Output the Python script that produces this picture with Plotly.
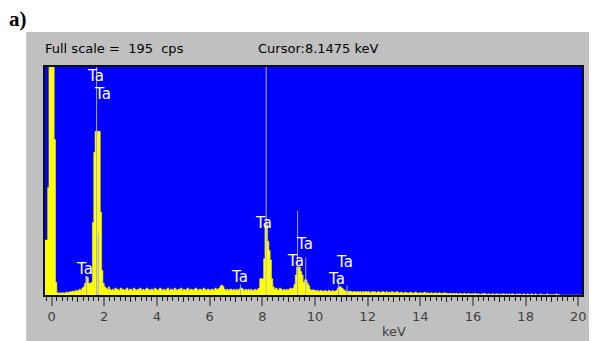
import plotly.graph_objects as go

# ---------------- data ----------------
CH_START = -0.25   # keV of first channel
CH_WIDTH = 0.05    # keV per channel

cps = (
    [47, 47, 92, 500, 500] +
    [500, 500, 133, 11, 2, 1.5, 2, 1.5, 2, 1.5, 2, 2.5, 2, 2.5, 3, 2.5, 3.5, 3, 4, 3.5] +
    [4, 5, 4, 6, 7, 10, 16, 15, 10, 10, 11, 62, 122, 140, 140, 140, 140, 71, 21, 10] +
    [7, 6, 5, 7, 5, 4, 5, 4, 6, 5, 5, 4, 6, 5, 5, 4, 5, 6, 4, 5] +
    [5, 4, 6, 5, 4, 5, 5, 6, 4, 5, 4, 5, 6, 5, 4, 5, 5, 4, 6, 5] +
    [4, 5, 6, 5, 4, 5, 4, 5, 6, 4, 5, 5, 4, 6, 5, 4, 5, 5, 6, 4] +
    [5, 4, 5, 6, 4, 5, 5, 4, 5, 6, 5, 4, 5, 5, 4, 6, 5, 4, 5, 5] +
    [4, 5, 5, 4, 6, 5, 5, 6, 8, 8.5, 7, 5, 4, 5, 4, 5, 5, 4, 5, 4] +
    [5, 4, 5, 6, 6, 5, 4, 5, 4, 5, 4, 5, 4, 4, 5, 4, 5, 6, 14, 14] +
    [14, 31, 60, 60, 46, 38, 30, 14, 7, 5, 6, 5, 4, 6, 5, 4, 5, 4, 5, 4] +
    [5, 6, 5, 6, 9, 17, 24, 24, 24, 20, 17, 11, 13, 13, 10, 8, 5, 4, 4.5, 4] +
    [4, 3.5, 4, 3, 4, 3.5, 3, 4, 3.5, 3, 4, 3.5, 3, 4, 3, 3.5, 4, 6, 7, 7] +
    [6, 5, 4, 3.5, 3, 3, 3.5, 3, 2.5, 3, 3, 2.5, 3, 2.5, 3, 2, 3, 2.5, 3, 2.5] +
    [3, 2.5, 2, 3, 2.5, 3, 2, 2.5, 3, 2, 2.5, 3, 2.5, 2, 3, 2, 2.5, 2, 3, 2.5] +
    [2, 2.5, 3, 2, 2, 2.5, 2, 1.5, 2.5, 2, 2, 1.5, 2.5, 2, 1.5, 2, 2.5, 2, 1.5, 2] +
    [2, 1.5, 2, 2.5, 1.5, 2, 1.5, 1.5, 2, 1.5, 1.5, 2, 1.5, 1.5, 2, 1.5, 1.5, 1.5, 2, 1.5] +
    [1.5, 1, 1.5, 1.5, 1, 1.5, 1, 1.5, 1, 1, 1.5, 1, 1, 1.5, 1, 1, 1.5, 1, 1, 1] +
    [1, 1.5, 1, 1, 1, 0.5, 1, 1, 1.5, 1, 0.5, 1, 1, 0.5, 1, 1, 0.5, 1, 1, 0.5] +
    [1, 0.5, 1, 1, 0.5, 1, 0.5, 1, 0.5, 1, 1, 0.5, 0.5, 1, 0.5, 1, 0.5, 0.5, 1, 0.5] +
    [0.5, 1, 0.5, 0.5, 1, 0.5, 0.5, 1, 0.5, 0.5, 0.5, 1, 0.5, 0.5, 0.5, 0.5, 1, 0.5, 0.5, 0.5] +
    [0.5, 0.5, 0.5, 1, 0.5, 0.5, 0, 0, 0, 0, 0, 0, 0, 0, 0, 0, 0, 0, 0, 0] +
    [0, 0, 0, 0]
)
energies = [CH_START + CH_WIDTH * i for i in range(len(cps))]

FULL_SCALE = 195
CURSOR_KEV = 8.1475

# Ta marker lines (energy keV, marker height in cps)
ta_line_kev = [1.33, 1.71, 1.77, 7.17, 9.34, 9.65, 10.90, 11.22]
ta_line_cps = [15, 195, 53, 9, 72, 32, 13, 8]

# Ta labels (energy keV, height cps)
ta_label_kev = [1.25, 1.67, 1.93, 7.12, 8.06, 9.59, 9.28, 10.82, 11.14]
ta_label_cps = [22, 187, 172, 15, 62, 44, 29, 14, 28.5]

x_ticks = list(range(0, 21, 2))
X_RANGE = [-0.25, 20.14]

# page body has an 8px margin: lay the figure out 8px up/left of the reference
OFF = 8
PLOT_L, PLOT_T, PLOT_W, PLOT_H = 45 - OFF, 67 - OFF, 542, 228
FIG_W, FIG_H = 597 - OFF, 341 - OFF


def px_x(x):   # reference pixel x -> paper fraction
    return (x - 45) / PLOT_W


def px_y(y):   # reference pixel y -> paper fraction
    return (295 - y) / PLOT_H


# ---------------- figure ----------------
fig = go.Figure()

fig.add_trace(go.Scatter(
    x=energies, y=cps, mode="lines", line=dict(color="#ffff00", width=0.5, shape="hv"),
    fill="tozeroy", fillcolor="#ffff00", hoverinfo="skip", showlegend=False))

mx, my = [], []
for e, h in zip(ta_line_kev, ta_line_cps):
    mx += [e, e, None]
    my += [0, h, None]
fig.add_trace(go.Scatter(x=mx, y=my, mode="lines", line=dict(color="#a8a8e8", width=1),
                         hoverinfo="skip", showlegend=False))
fig.add_trace(go.Scatter(x=[CURSOR_KEV, CURSOR_KEV], y=[0, FULL_SCALE], mode="lines",
                         line=dict(color="#b8b8f0", width=1), hoverinfo="skip", showlegend=False))

# invisible trace for the overlay tick axis
fig.add_trace(go.Scatter(x=[0], y=[0], xaxis="x2", mode="markers", marker=dict(opacity=0),
                         hoverinfo="skip", showlegend=False))

for e, h in zip(ta_label_kev, ta_label_cps):
    fig.add_annotation(x=e, y=h, text="Ta", showarrow=False, xanchor="center", yanchor="middle",
                       font=dict(family="DejaVu Sans", size=15, color="#ffffff"))

# grey panel + blue plot area
fig.add_shape(type="rect", xref="paper", yref="paper",
              x0=px_x(26), x1=px_x(600), y0=px_y(345), y1=px_y(32),
              fillcolor="#c0c0c0", line=dict(width=0), layer="below")
fig.add_shape(type="rect", xref="paper", yref="paper", x0=0, x1=1, y0=0, y1=1,
              fillcolor="#0000ff", line=dict(width=0), layer="below")

fig.add_annotation(xref="paper", yref="paper", x=px_x(43), y=px_y(48),
                   text="Full scale =\u00a0\u00a0" + str(FULL_SCALE) + "\u00a0\u00a0cps",
                   showarrow=False, xanchor="left", yanchor="middle",
                   font=dict(family="DejaVu Sans", size=13, color="#000000"))
fig.add_annotation(xref="paper", yref="paper", x=px_x(258), y=px_y(48),
                   text="Cursor:" + str(CURSOR_KEV) + " keV",
                   showarrow=False, xanchor="left", yanchor="middle",
                   font=dict(family="DejaVu Sans", size=13, color="#000000"))
fig.add_annotation(xref="paper", yref="paper", x=px_x(8), y=px_y(19),
                   text="<b>a)</b>", showarrow=False, xanchor="left", yanchor="middle",
                   borderpad=0,
                   font=dict(family="Liberation Serif", size=21, color="#000000"))
fig.add_annotation(xref="x", yref="paper", x=13, y=px_y(331.5),
                   text="keV", showarrow=False, xanchor="center", yanchor="middle",
                   font=dict(family="DejaVu Sans", size=13, color="#404040"))

fig.update_layout(
    width=FIG_W, height=FIG_H,
    margin=dict(l=PLOT_L, r=FIG_W - PLOT_L - PLOT_W, t=PLOT_T, b=FIG_H - PLOT_T - PLOT_H, pad=0),
    paper_bgcolor="#ffffff", plot_bgcolor="rgba(0,0,0,0)",
    showlegend=False,
    xaxis=dict(range=X_RANGE, tickvals=x_ticks, ticktext=[str(v) for v in x_ticks],
               ticks="outside", ticklen=9, tickwidth=2, tickcolor="#707070",
               minor=dict(dtick=0.2, tick0=0, ticks="outside", ticklen=4, tickwidth=1,
                          tickcolor="#202020", showgrid=False),
               showline=True, linecolor="#101010", linewidth=1.5, mirror=True,
               showgrid=False, zeroline=False,
               tickfont=dict(family="DejaVu Sans", size=13, color="#404040")),
    xaxis2=dict(range=X_RANGE, overlaying="x", anchor="y", side="bottom",
                tickvals=list(range(1, 20, 2)), ticks="outside", ticklen=6, tickwidth=1,
                tickcolor="#202020", showticklabels=False, showgrid=False, zeroline=False,
                showline=False),
    yaxis=dict(range=[0, FULL_SCALE], showticklabels=False, ticks="", showgrid=False,
               zeroline=False, showline=True, linecolor="#101010", linewidth=1.5, mirror=True),
)

fig.write_html("out.html")
